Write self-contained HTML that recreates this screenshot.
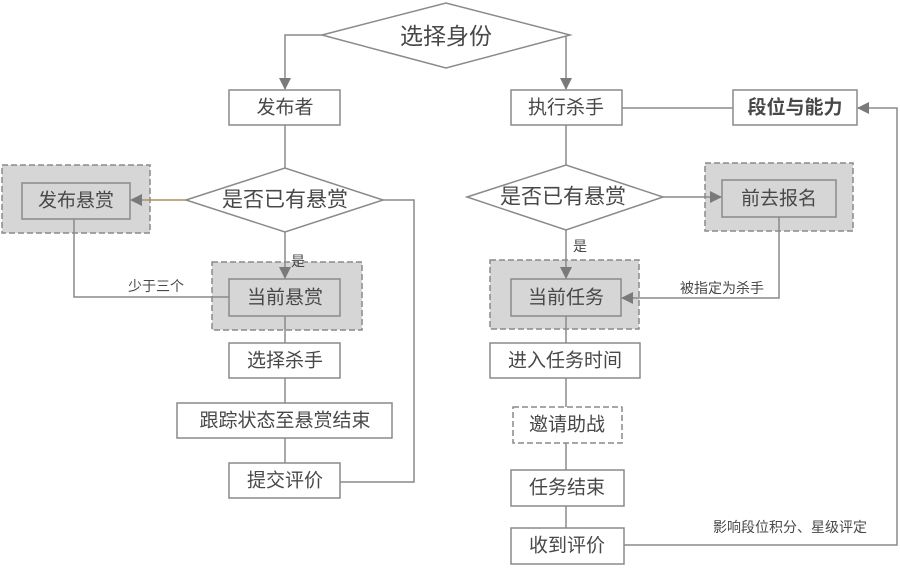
<!DOCTYPE html>
<html><head><meta charset="utf-8"><style>
html,body{margin:0;padding:0;background:#fff}
svg text{font-family:"Liberation Sans","Noto Sans CJK SC",sans-serif;fill:#484848}
</style></head><body>
<svg width="900" height="566" viewBox="0 0 900 566" xmlns="http://www.w3.org/2000/svg">
<defs><marker id="a" markerWidth="12" markerHeight="12" refX="11" refY="6" orient="auto" markerUnits="userSpaceOnUse"><path d="M0,0 L12,6 L0,12 z" fill="#7a7a7a"/></marker></defs>
<g stroke="#8a8a8a" stroke-width="1.5" fill="none">
<rect x="2" y="165" width="148" height="68" fill="#d6d6d6" stroke-dasharray="6,3"/>
<rect x="212" y="262" width="150" height="68" fill="#d6d6d6" stroke-dasharray="6,3"/>
<rect x="705" y="163" width="148" height="68" fill="#d6d6d6" stroke-dasharray="6,3"/>
<rect x="490" y="260" width="149" height="69" fill="#d6d6d6" stroke-dasharray="6,3"/>
<polyline points="322,35 285,35 285,89" marker-end="url(#a)"/>
<polyline points="570,35 566,35 566,89" marker-end="url(#a)"/>
<line x1="622" y1="108" x2="733" y2="108"/>
<polyline points="624,545 897,545 897,108 858,108" marker-end="url(#a)"/>
<line x1="285" y1="125" x2="285" y2="168"/>
<line x1="186" y1="200" x2="131" y2="200" stroke="#a89060" marker-end="url(#a)"/>
<polyline points="383,200 414,200 414,482 340,482"/>
<line x1="285" y1="232" x2="285" y2="278" marker-end="url(#a)"/>
<polyline points="74,219 74,297 229,297"/>
<line x1="285" y1="316" x2="285" y2="343"/>
<line x1="285" y1="378" x2="285" y2="403"/>
<line x1="285" y1="438" x2="285" y2="463"/>
<line x1="566" y1="125" x2="566" y2="165"/>
<line x1="663" y1="197" x2="721" y2="197" marker-end="url(#a)"/>
<line x1="566" y1="230" x2="566" y2="278" marker-end="url(#a)"/>
<polyline points="779,217 779,298 622,298" marker-end="url(#a)"/>
<line x1="566" y1="316" x2="566" y2="343"/>
<line x1="566" y1="378" x2="566" y2="407"/>
<line x1="566" y1="443" x2="566" y2="470"/>
<line x1="566" y1="506" x2="566" y2="528"/>
<polygon points="322,35 446,3 570,35 446,68" fill="#fff"/>
<rect x="229" y="90" width="111" height="35" fill="#fff"/>
<rect x="511" y="90" width="111" height="35" fill="#fff"/>
<rect x="733" y="90" width="124" height="35" fill="#fff"/>
<polygon points="186,200 285,168 383,200 285,232" fill="#fff"/>
<polygon points="467,197 566,165 663,197 566,230" fill="#fff"/>
<rect x="22" y="183" width="108" height="36" fill="#d6d6d6"/>
<rect x="229" y="279" width="111" height="37" fill="#d6d6d6"/>
<rect x="722" y="180" width="114" height="37" fill="#d6d6d6"/>
<rect x="511" y="279" width="110" height="37" fill="#d6d6d6"/>
<rect x="229" y="343" width="111" height="35" fill="#fff"/>
<rect x="177" y="403" width="215" height="35" fill="#fff"/>
<rect x="229" y="463" width="111" height="35" fill="#fff"/>
<rect x="490" y="343" width="150" height="35" fill="#fff"/>
<rect x="513" y="407" width="109" height="36" fill="#fff" stroke-dasharray="6,3"/>
<rect x="511" y="470" width="113" height="36" fill="#fff"/>
<rect x="511" y="528" width="113" height="36" fill="#fff"/>
</g>
<g font-size="19" text-anchor="middle" dominant-baseline="central">
<text x="446" y="36" font-size="23">选择身份</text>
<text x="285" y="108">发布者</text>
<text x="566" y="108">执行杀手</text>
<text x="795" y="108" font-weight="bold">段位与能力</text>
<text x="285" y="200" font-size="21">是否已有悬赏</text>
<text x="563" y="197" font-size="21">是否已有悬赏</text>
<text x="76" y="201">发布悬赏</text>
<text x="285" y="298">当前悬赏</text>
<text x="779" y="199">前去报名</text>
<text x="566" y="298">当前任务</text>
<text x="285" y="361">选择杀手</text>
<text x="285" y="421">跟踪状态至悬赏结束</text>
<text x="285" y="481">提交评价</text>
<text x="565" y="361">进入任务时间</text>
<text x="567" y="425">邀请助战</text>
<text x="567" y="488">任务结束</text>
<text x="567" y="546">收到评价</text>
</g>
<g font-size="14" text-anchor="middle" dominant-baseline="central">
<text x="298" y="261">是</text>
<text x="580" y="246">是</text>
<text x="156" y="286">少于三个</text>
<text x="722" y="288">被指定为杀手</text>
<text x="790" y="527">影响段位积分、星级评定</text>
</g>
</svg>
</body></html>
